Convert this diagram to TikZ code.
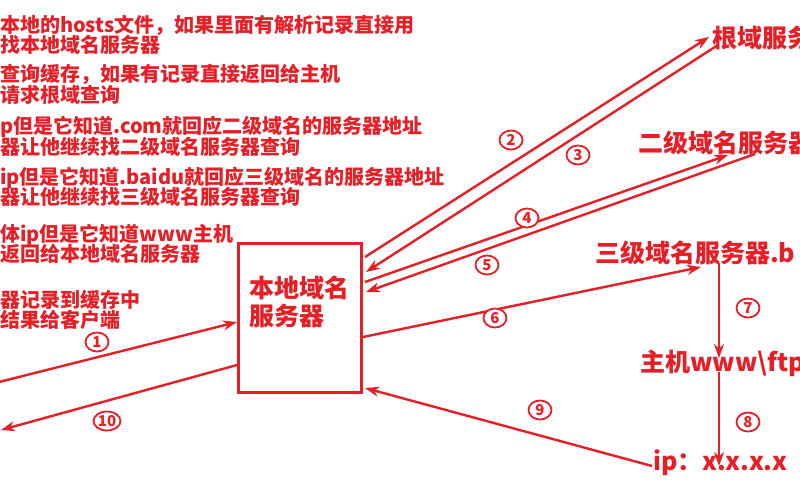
\documentclass[tikz,border=0pt]{standalone}
\usepackage{fontspec}
\newfontfamily\cjk{Noto Sans CJK SC}
\usetikzlibrary{arrows.meta,shapes.geometric}
\definecolor{rd}{RGB}{230,30,38}
\begin{document}
\begin{tikzpicture}[x=1pt,y=-1pt,
  lbl/.style={anchor=west,inner sep=0pt,text=rd,font=\cjk\bfseries\fontsize{20}{22}\selectfont},
  big/.style={anchor=west,inner sep=0pt,text=rd,font=\cjk\bfseries\fontsize{25}{28}\selectfont},
  num/.style={ellipse,draw=rd,line width=1.8pt,fill=white,inner sep=0pt,minimum width=23pt,minimum height=19pt,text=rd,font=\cjk\bfseries\fontsize{15}{15}\selectfont},
  arr/.style={draw=rd,line width=2.4pt,-{Stealth[length=14pt,width=10pt]}},
  boxst/.style={draw=rd,line width=3pt,minimum width=123pt,minimum height=149pt,inner sep=0pt}]
\useasboundingbox (0,0) rectangle (800,500);
\clip (0,0) rectangle (800,500);
\fill[white] (0,0) rectangle (800,500);

% left explanatory text
\node[lbl] (t1) at (0,25) {本地的hosts文件，如果里面有解析记录直接用};
\node[lbl] (t2) at (0,45) {找本地域名服务器};
\node[lbl] (t3) at (0,74) {查询缓存，如果有记录直接返回给主机};
\node[lbl] (t4) at (0,95) {请求根域查询};
\node[lbl] (t5) at (0,127) {p但是它知道.com就回应二级域名的服务器地址};
\node[lbl] (t6) at (0,147) {器让他继续找二级域名服务器查询};
\node[lbl] (t7) at (0,178) {ip但是它知道.baidu就回应三级域名的服务器地址};
\node[lbl] (t8) at (0,197) {器让他继续找三级域名服务器查询};
\node[lbl] (t9) at (0,235) {体ip但是它知道www主机};
\node[lbl] (t10) at (0,254) {返回给本地域名服务器};
\node[lbl] (t11) at (0,300) {器记录到缓存中};
\node[lbl] (t12) at (0,320) {结果给客户端};

% local DNS box
\node[boxst] (box) at (300,318) {};
\node[big] (bx1) at (249,288) {本地域名};
\node[big] (bx2) at (249,316) {服务器};

% right side servers
\node[big] (root) at (712,38) {根域服务};
\node[big] (sec) at (638,143) {二级域名服务器};
\node[big] (thr) at (595,253) {三级域名服务器.b};
\node[big] (host) at (640,363) {主机www\textbackslash ftp};
\node[big] (ip) at (653,463) {ip：x.x.x.x};

% connector end points
\coordinate (c1s) at (-5,383);
\coordinate (c1e) at (237,322);
\coordinate (c10s) at (237,365);
\coordinate (c10e) at (1,430);
\coordinate (c2s) at (365,257);
\coordinate (c2e) at (709,37);
\coordinate (c3s) at (718,45);
\coordinate (c3e) at (366,272);
\coordinate (c4s) at (365,282);
\coordinate (c4e) at (728,155);
\coordinate (c5s) at (755,154);
\coordinate (c5e) at (366,292);
\coordinate (c6s) at (363,337);
\coordinate (c6e) at (701,267);
\coordinate (c7s) at (719,263);
\coordinate (c7e) at (719,358);
\coordinate (c8s) at (719,372);
\coordinate (c8e) at (719,466);
\coordinate (c9s) at (652,466);
\coordinate (c9e) at (365,388);

\draw[arr] (c1s) -- (c1e);
\draw[arr] (c10s) -- (c10e);
\draw[arr] (c2s) -- (c2e);
\draw[arr] (c3s) -- (c3e);
\draw[arr] (c4s) -- (c4e);
\draw[arr] (c5s) -- (c5e);
\draw[arr] (c6s) -- (c6e);
\draw[arr] (c7s) -- (c7e);
\draw[arr] (c8s) -- (c8e);
\draw[arr] (c9s) -- (c9e);

% step numbers
\node[num] (n1) at (97,342) {1};
\node[num] (n2) at (511,140) {2};
\node[num] (n3) at (578,155) {3};
\node[num] (n4) at (527,218) {4};
\node[num] (n5) at (487,265) {5};
\node[num] (n6) at (495,318) {6};
\node[num] (n7) at (748,308) {7};
\node[num] (n8) at (748,422) {8};
\node[num] (n9) at (540,410) {9};
\node[num,minimum width=27pt] (n10) at (107,421) {10};
\end{tikzpicture}
\end{document}
